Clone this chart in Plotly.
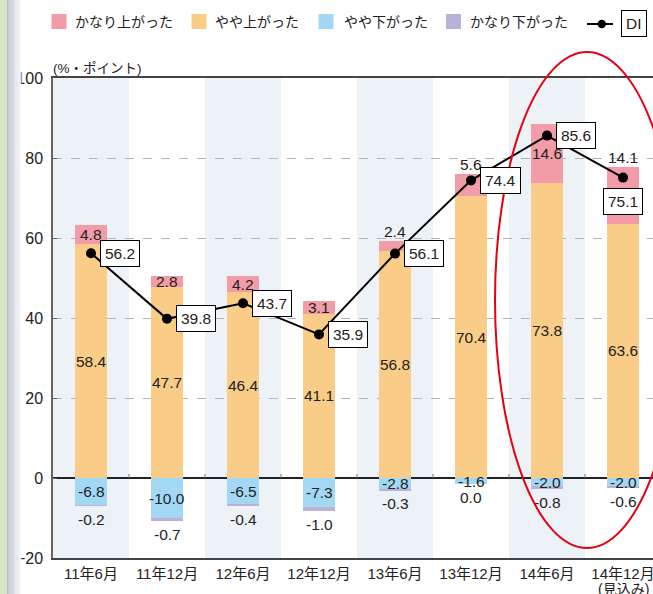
import plotly.graph_objects as go

# ---------------- data ----------------
categories = ["11年6月", "11年12月", "12年6月", "12年12月", "13年6月", "13年12月", "14年6月", "14年12月"]
category_notes = ["", "", "", "", "", "", "", "(見込み)"]
kanari_up = [4.8, 2.8, 4.2, 3.1, 2.4, 5.6, 14.6, 14.1]
yaya_up = [58.4, 47.7, 46.4, 41.1, 56.8, 70.4, 73.8, 63.6]
yaya_down = [-6.8, -10.0, -6.5, -7.3, -2.8, -1.6, -2.0, -2.0]
kanari_down = [-0.2, -0.7, -0.4, -1.0, -0.3, 0.0, -0.8, -0.6]
di = [56.2, 39.8, 43.7, 35.9, 56.1, 74.4, 85.6, 75.1]
series_names = ["かなり上がった", "やや上がった", "やや下がった", "かなり下がった"]
y_ticks = [-20, 0, 20, 40, 60, 80, 100]
unit_label = "(%・ポイント)"

# ---------------- style ----------------
C_PINK = "#f29ca8"
C_ORANGE = "#f9cc88"
C_BLUE = "#a2d8f4"
C_LAV = "#bab2d8"
C_BAND = "#edf2f7"
TXT = "#222222"
FONT = "Liberation Sans, Noto Sans CJK JP, sans-serif"
pink_pos = ["in", "in", "in", "in", "above", "above", "in", "above"]
di_pos = ["right"] * 7 + ["below"]

W, H = 653, 594
L, R, T, B = 53, 0, 78, 36
PW = W - L - R
PH = H - T - B
CAT_PX = 76
x = list(range(len(categories)))
xmax = -0.5 + PW / CAT_PX


def px2x(px):
    return (px - L) / PW


def py2y(py):
    return (H - B - py) / PH


fig = go.Figure()
bw = 0.41
fig.add_trace(go.Bar(x=x, y=yaya_up, name=series_names[1], marker=dict(color=C_ORANGE, line=dict(width=0)), width=bw))
fig.add_trace(go.Bar(x=x, y=kanari_up, name=series_names[0], marker=dict(color=C_PINK, line=dict(width=0)), width=bw))
fig.add_trace(go.Bar(x=x, y=yaya_down, name=series_names[2], marker=dict(color=C_BLUE, line=dict(width=0)), width=bw))
fig.add_trace(go.Bar(x=x, y=kanari_down, name=series_names[3], marker=dict(color=C_LAV, line=dict(width=0)), width=bw))
fig.add_trace(go.Scatter(x=x, y=di, name="DI", mode="lines+markers",
                         line=dict(color="black", width=2),
                         marker=dict(color="black", size=10)))

shapes = []
ann = []
# background bands
for i in range(0, len(categories), 2):
    shapes.append(dict(type="rect", xref="x", yref="paper", x0=i - 0.5, x1=i + 0.5, y0=0, y1=1,
                       fillcolor=C_BAND, line=dict(width=0), layer="below"))
# small ticks on the zero line at category boundaries
for i in range(len(categories) - 1):
    shapes.append(dict(type="line", xref="x", yref="y", x0=i + 0.5, x1=i + 0.5, y0=0, y1=1,
                       line=dict(color="#777777", width=1)))

lab_font = dict(family=FONT, size=15.5, color=TXT)
for i in x:
    # orange
    ann.append(dict(x=i, y=yaya_up[i] / 2, text=f"{yaya_up[i]:.1f}", showarrow=False, font=lab_font,
                    xref="x", yref="y"))
    # pink
    if pink_pos[i] == "in":
        ann.append(dict(x=i, y=yaya_up[i] + kanari_up[i] / 2, text=f"{kanari_up[i]:.1f}", showarrow=False,
                        font=lab_font, xref="x", yref="y"))
    else:
        ann.append(dict(x=i, y=yaya_up[i] + kanari_up[i], text=f"{kanari_up[i]:.1f}", showarrow=False,
                        font=lab_font, xref="x", yref="y", yanchor="bottom", yshift=-1))
    # blue
    ann.append(dict(x=i, y=yaya_down[i] / 2, text=f"{yaya_down[i]:.1f}", showarrow=False, font=lab_font,
                    xref="x", yref="y"))
    # lavender
    ann.append(dict(x=i, y=yaya_down[i] + kanari_down[i], text=f"{kanari_down[i]:.1f}", showarrow=False,
                    font=lab_font, xref="x", yref="y", yanchor="top", yshift=-3))
    # DI boxes
    box = dict(x=i, y=di[i], text=f"{di[i]:.1f}", showarrow=False, font=lab_font, xref="x", yref="y",
               bgcolor="white", bordercolor="black", borderwidth=1, borderpad=4)
    if di_pos[i] == "right":
        box.update(xanchor="left", xshift=9)
    else:
        box.update(yanchor="top", yshift=-10)
    ann.append(box)
    # second line of category label
    if category_notes[i]:
        ann.append(dict(x=i, xref="x", yref="paper", y=py2y(588.5), yanchor="middle", text=category_notes[i],
                        showarrow=False, font=dict(family=FONT, size=14, color=TXT)))

# unit label
ann.append(dict(xref="paper", yref="paper", x=px2x(51), y=py2y(68), xanchor="left", yanchor="middle",
                text=unit_label, showarrow=False, font=dict(family=FONT, size=13.5, color=TXT)))

# custom legend
leg_items = [(series_names[0], C_PINK, 51.5, 73), (series_names[1], C_ORANGE, 191.5, 213),
             (series_names[2], C_BLUE, 318.5, 342), (series_names[3], C_LAV, 446, 468)]
ly = 21.5
for name, col, sx, tx in leg_items:
    shapes.append(dict(type="rect", xref="paper", yref="paper", x0=px2x(sx), x1=px2x(sx + 15),
                       y0=py2y(ly + 7.5), y1=py2y(ly - 7.5), fillcolor=col, line=dict(width=0)))
    ann.append(dict(xref="paper", yref="paper", x=px2x(tx), y=py2y(ly), xanchor="left", yanchor="middle",
                    text=name, showarrow=False, font=dict(family=FONT, size=14, color=TXT)))
shapes.append(dict(type="line", xref="paper", yref="paper", x0=px2x(587), x1=px2x(613), y0=py2y(24), y1=py2y(24),
                   line=dict(color="black", width=2)))
shapes.append(dict(type="circle", xref="paper", yref="paper", x0=px2x(597.5), x1=px2x(606), y0=py2y(28.2),
                   y1=py2y(19.8), fillcolor="black", line=dict(width=0)))
ann.append(dict(xref="paper", yref="paper", x=px2x(634), y=py2y(24), xanchor="center", yanchor="middle",
                text="DI", showarrow=False, font=dict(family=FONT, size=15.5, color=TXT),
                bgcolor="white", bordercolor="black", borderwidth=1, borderpad=4))

# red ellipse
shapes.append(dict(type="circle", xref="paper", yref="paper", x0=px2x(495), x1=px2x(679),
                   y0=py2y(548), y1=py2y(52), line=dict(color="#e60012", width=2), layer="above"))

# left decoration strip
shapes.append(dict(type="rect", xref="paper", yref="paper", x0=px2x(0), x1=px2x(7), y0=py2y(H), y1=py2y(0),
                   fillcolor="#d7e7c6", line=dict(width=0)))
steps = 12
for k in range(steps):
    t = k / steps
    g0 = (184, 189, 200)
    c = tuple(int(g0[j] + (255 - g0[j]) * t) for j in range(3))
    shapes.append(dict(type="rect", xref="paper", yref="paper", x0=px2x(7 + k * 1.2), x1=px2x(7 + (k + 1) * 1.2),
                       y0=py2y(H), y1=py2y(0), fillcolor=f"rgb{c}", line=dict(width=0)))

fig.update_layout(
    width=W, height=H, autosize=False,
    margin=dict(l=L, r=R, t=T, b=B, pad=0),
    paper_bgcolor="white", plot_bgcolor="white",
    barmode="relative", bargap=0, showlegend=False,
    font=dict(family=FONT, size=14, color=TXT),
    shapes=shapes, annotations=ann,
    xaxis=dict(range=[-0.5, xmax], tickvals=x, ticktext=categories, showgrid=False, zeroline=False,
               showline=True, linecolor="#444444", linewidth=1.5, mirror=True, ticks="",
               tickfont=dict(family=FONT, size=15, color=TXT), ticklabelstandoff=1,
               ticklabeloverflow="allow", automargin=False),
    yaxis=dict(range=[-20, 100], tickvals=y_ticks, showgrid=True, gridcolor="#b5b5b5", griddash="dash",
               gridwidth=1, zeroline=True, zerolinecolor="#222222", zerolinewidth=1.5,
               showline=True, linecolor="#666666", linewidth=1.5, ticks="inside", ticklen=4,
               tickcolor="#666666", tickfont=dict(family=FONT, size=16, color=TXT), ticklabelstandoff=5,
               automargin=False),
)

fig.write_html("out.html")
